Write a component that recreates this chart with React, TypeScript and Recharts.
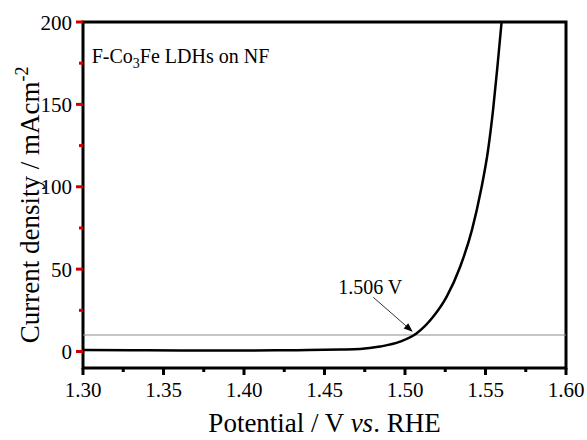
import { LineChart, Line, XAxis, YAxis, ReferenceDot, ReferenceArea } from "recharts";

// LSV polarization curve
const potential = [
  1.3, 1.33, 1.36, 1.39, 1.42, 1.44, 1.46, 1.472, 1.4845, 1.4969, 1.5073, 1.5176, 1.5259, 1.5342,
  1.5416, 1.5472, 1.5516, 1.5547, 1.5575, 1.56,
];
const currentDensity = [
  1.0, 0.8, 0.6, 0.6, 0.7, 0.9, 1.2, 1.5, 3.0, 6.0, 11.1, 21.2, 33.3, 51.3, 73.8, 98, 122.3, 146.6,
  173.9, 200,
];

const xTicks = [1.3, 1.325, 1.35, 1.375, 1.4, 1.425, 1.45, 1.475, 1.5, 1.525, 1.55, 1.575, 1.6];
const yTicks = [0, 25, 50, 75, 100, 125, 150, 175, 200];

const refCurrent = 10;
const arrowFrom = { x: 1.4803, y: 32.9 };
const arrowTo = { x: 1.5048, y: 12.0 };
const sampleLabelAt = { x: 1.3054, y: 174.9 };

const data = potential.map((x, i) => ({ x, y: currentDensity[i] }));

const FONT = "Liberation Serif";

function XTick({ x, y, payload }: any) {
  const v = payload.value;
  const major = Math.round(v * 1000) % 50 === 0;
  return (
    <g>
      <path d={`M${x},${y}V${y + (major ? 7 : 4)}`} stroke="#000" strokeWidth={3} fill="none" />
      {major && (
        <text x={x} y={y + 29} textAnchor="middle" fontFamily={FONT} fontSize={21}>
          {v.toFixed(2)}
        </text>
      )}
    </g>
  );
}

function YTick({ x, y, payload }: any) {
  const v = payload.value;
  const major = v % 50 === 0;
  return (
    <g>
      <path d={`M${x},${y}H${x - (major ? 7 : 4)}`} stroke="#c00" strokeWidth={3} fill="none" />
      {major && (
        <text x={x - 11} y={y + 7.5} textAnchor="end" fontFamily={FONT} fontSize={21}>
          {v}
        </text>
      )}
    </g>
  );
}

function XTitle({ cx, cy }: any) {
  return (
    <text x={cx} y={cy + 64} textAnchor="middle" fontFamily={FONT} fontSize={27}>
      Potential / V <tspan fontStyle="italic">vs</tspan>. RHE
    </text>
  );
}

function YTitle({ cx, cy }: any) {
  const tx = cx - 44;
  return (
    <text
      x={tx}
      y={cy}
      transform={`rotate(-90, ${tx}, ${cy})`}
      textAnchor="middle"
      fontFamily={FONT}
      fontSize={27}
    >
      Current density / mAcm
      <tspan dy={-11} fontSize={18}>
        -2
      </tspan>
    </text>
  );
}

function Arrow({ x, y, width, height }: any) {
  const x1 = x;
  const y1 = y;
  const x2 = x + width;
  const y2 = y + height;
  const a = Math.atan2(y2 - y1, x2 - x1);
  const L = 9;
  const W = 3.5;
  const bx = x2 - L * Math.cos(a);
  const by = y2 - L * Math.sin(a);
  const px = -Math.sin(a) * W;
  const py = Math.cos(a) * W;
  return (
    <g>
      <line x1={x1} y1={y1} x2={bx} y2={by} stroke="#333" strokeWidth={1} />
      <polygon points={`${x2},${y2} ${bx + px},${by + py} ${bx - px},${by - py}`} fill="#000" />
      <text x={x1 - 3} y={y1 - 3} textAnchor="middle" fontFamily={FONT} fontSize={20}>
        1.506 V
      </text>
    </g>
  );
}

function SampleLabel({ cx, cy }: any) {
  return (
    <text x={cx} y={cy} fontFamily={FONT} fontSize={20}>
      F-Co
      <tspan dy={5} fontSize={14}>
        3
      </tspan>
      <tspan dy={-5}>Fe LDHs on NF</tspan>
    </text>
  );
}

export default function App() {
  return (
    <div style={{ position: "absolute", left: 0, top: 0, background: "#fff" }}>
      <LineChart width={587} height={440} data={data} margin={{ top: 22, right: 21, bottom: 0, left: 0 }}>
        <XAxis
          type="number"
          dataKey="x"
          domain={[1.3, 1.6]}
          ticks={xTicks}
          allowDataOverflow
          height={72}
          axisLine={false}
          tickLine={false}
          tickSize={0}
          tickMargin={0}
          tick={<XTick />}
          interval={0}
        />
        <YAxis
          type="number"
          domain={[-10, 200]}
          ticks={yTicks}
          allowDataOverflow
          width={83}
          axisLine={false}
          tickLine={false}
          tickSize={0}
          tickMargin={0}
          tick={<YTick />}
          interval={0}
        />
        <ReferenceArea
          x1={1.3}
          x2={1.6}
          y1={-10}
          y2={200}
          fill="none"
          stroke="#000"
          strokeWidth={3}
          ifOverflow="visible"
        />
        <ReferenceArea
          x1={1.3}
          x2={1.6}
          y1={refCurrent - 0.3}
          y2={refCurrent + 0.3}
          fill="#8c8c8c"
          fillOpacity={1}
          stroke="none"
          ifOverflow="visible"
        />
        <ReferenceArea
          x1={arrowFrom.x}
          x2={arrowTo.x}
          y1={arrowTo.y}
          y2={arrowFrom.y}
          ifOverflow="visible"
          shape={(p: any) => <Arrow {...p} />}
        />
        <ReferenceDot
          x={sampleLabelAt.x}
          y={sampleLabelAt.y}
          ifOverflow="visible"
          shape={(p: any) => <SampleLabel {...p} />}
        />
        <ReferenceDot x={1.45} y={-10} ifOverflow="visible" shape={(p: any) => <XTitle {...p} />} />
        <ReferenceDot x={1.3} y={89} ifOverflow="visible" shape={(p: any) => <YTitle {...p} />} />
        <Line
          type="monotone"
          dataKey="y"
          stroke="#000"
          strokeWidth={2.5}
          dot={false}
          isAnimationActive={false}
        />
      </LineChart>
    </div>
  );
}
